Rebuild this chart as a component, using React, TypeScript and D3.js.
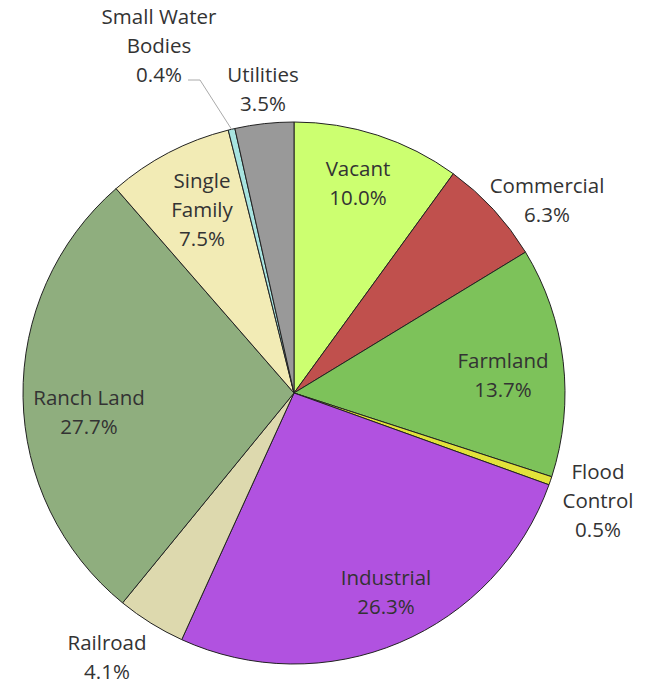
import React from 'react'
import * as d3 from 'd3'

const categories = ['Vacant', 'Commercial', 'Farmland', 'Flood Control', 'Industrial', 'Railroad', 'Ranch Land', 'Single Family', 'Small Water Bodies', 'Utilities']
const shares = [10.0, 6.3, 13.7, 0.5, 26.3, 4.1, 27.7, 7.5, 0.4, 3.5]
const colours = ['#ccff70', '#c0504d', '#7dc25a', '#e2e23a', '#b152e0', '#ddd9ae', '#8fae7e', '#f2ebb5', '#a8e4e0', '#999999']
// label text lines (the % line gets appended)
const labelLines = [['Vacant'], ['Commercial'], ['Farmland'], ['Flood', 'Control'], ['Industrial'], ['Railroad'], ['Ranch Land'], ['Single', 'Family'], ['Small Water', 'Bodies'], ['Utilities']]

// where each label block is centred, relative to the pie centre
const labelAt: Record<string, [number, number]> = {
  'Vacant': [64, -210],
  'Commercial': [253, -193],
  'Farmland': [209, -18],
  'Flood Control': [304, 108],
  'Industrial': [92, 199],
  'Railroad': [-187, 264],
  'Ranch Land': [-205, 19],
  'Single Family': [-92, -183],
  'Small Water Bodies': [-135, -347],
  'Utilities': [-31, -304],
}

const W = 660
const H = 687
const cx = 294
const cy = 393
const R = 271
const lineH = 29

export default function App () {
  const pie = d3.pie<number>().sort(null).value(d => d)
  const arcs = pie(shares)
  const arc = d3.arc<d3.PieArcDatum<number>>().innerRadius(0).outerRadius(R)

  // leader line for the tiny water slice
  const water = arcs[8]
  const mid = (water.startAngle + water.endAngle) / 2
  const edge: [number, number] = [Math.sin(mid) * R, -Math.cos(mid) * R]
  const wl = labelAt['Small Water Bodies']

  return (
    <div style={{ margin: -8 }}>
      <svg width={W} height={H} style={{ display: 'block', fontFamily: '"Open Sans", sans-serif' }}>
        <rect width={W} height={H} fill='#fff' />
        <g transform={`translate(${cx},${cy})`}>
          {arcs.map((a, i) => (
            <path key={categories[i]} d={arc(a) || ''} fill={colours[i]} stroke='#222' strokeWidth={1} />
          ))}
          <polyline
            points={`${wl[0] + 29},${wl[1] + 34} ${wl[0] + 41},${wl[1] + 34} ${edge[0]},${edge[1]}`}
            fill='none' stroke='#aaa' strokeWidth={1}
          />
          {categories.map((c, i) => {
            const lines = [...labelLines[i], d3.format('.1f')(shares[i]) + '%']
            const [lx, ly] = labelAt[c]
            const top = ly - ((lines.length - 1) * lineH) / 2
            return (
              <text key={c} x={lx} textAnchor='middle' fontSize={20.5} fill='#333'>
                {lines.map((t, j) => (
                  <tspan key={j} x={lx} y={top + j * lineH} dy='0.35em'>{t}</tspan>
                ))}
              </text>
            )
          })}
        </g>
      </svg>
    </div>
  )
}
